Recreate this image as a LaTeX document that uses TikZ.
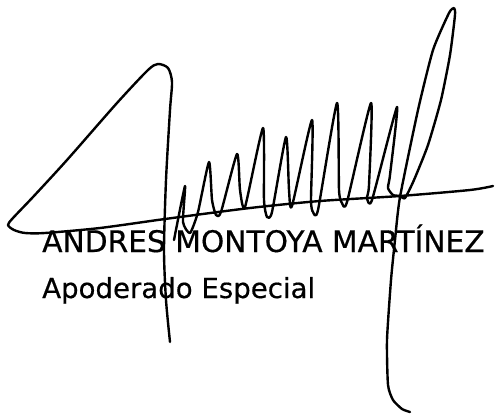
\documentclass[tikz,border=0pt]{standalone}
\usepackage{fontspec}
\setmainfont{DejaVu Sans}[FakeBold=0.5]
\usepackage{xcolor}
\usepackage{tikz}
\definecolor{ink}{HTML}{000000}
\tikzset{
  pen/.style={draw=ink, line width=2.4pt, line cap=round, line join=round},
  lab/.style={text=ink, anchor=base west, inner sep=0pt},
  namefont/.style={font=\fontsize{29.7}{30}\selectfont},
  rolefont/.style={font=\fontsize{27.6}{28}\selectfont},
}
\begin{document}
\begin{tikzpicture}[x=1pt,y=-1pt]
  \useasboundingbox (0,0) rectangle (495,414);

  \draw[pen] plot[smooth, tension=0.45] coordinates {
    (170,342) (166,300) (164,250) (166,180) (170,110) (172,82)
    (168,68) (158,64) (148,70) (117,103) (67,160) (33,197) (13,218)
    (8,225) (14,230) (25,233) (45,233) (100,228) (165,219) (250,208)
    (320,201) (400,196) (470,190) (493,186)};

  \draw[pen] plot[smooth, tension=0.35] coordinates {
    (174,240) (185,186) (183,222) (190,233) (198,212) (209,162)
    (212,200) (216,215) (221,212) (237,154) (240,190) (245,207)
    (263,128) (264,200) (267,217) (272,212) (286,137) (289,190)
    (292,206) (312,120) (311,200) (313,212) (318,210) (337,103)
    (339,190) (342,203) (347,202) (371,103) (369,185) (367,198)
    (372,200) (397,107) (390,175) (388,188) (393,195) (400,196)
    (405,198) (414,180) (428,145) (441,100) (450,55) (455,15)
    (454,8) (449,13) (433,50) (418,110) (400,197) (395,240)
    (391,280) (387,340) (388,385) (393,400) (402,409) (410,412)};

  \node[lab, namefont] (name) at (42,252) {ANDRES MONTOYA MARTÍNEZ};
  \node[lab, rolefont] (role) at (42,298) {Apoderado Especial};
\end{tikzpicture}
\end{document}
